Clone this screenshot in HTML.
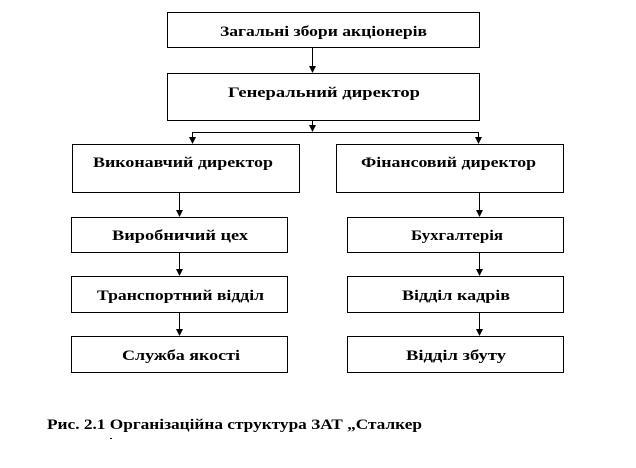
<!DOCTYPE html>
<html><head><meta charset="utf-8"><style>
html,body{margin:0;padding:0;background:#fff;}
svg{display:block;}
</style></head><body>
<svg width="636" height="468" viewBox="0 0 636 468" xmlns="http://www.w3.org/2000/svg">
<g fill="none" stroke="#000" stroke-width="1">
<rect x="167.5" y="12.5" width="312" height="35"/>
<rect x="167.5" y="73.5" width="312" height="47"/>
<rect x="72.5" y="144.5" width="227" height="48"/>
<rect x="336.5" y="144.5" width="227" height="48"/>
<rect x="71.5" y="217.5" width="216" height="35"/>
<rect x="71.5" y="276.5" width="216" height="36"/>
<rect x="71.5" y="336.5" width="216" height="36"/>
<rect x="347.5" y="217.5" width="216" height="35"/>
<rect x="347.5" y="276.5" width="216" height="36"/>
<rect x="347.5" y="336.5" width="216" height="36"/>
<line x1="312.5" y1="48" x2="312.5" y2="67"/>
<line x1="312.5" y1="121" x2="312.5" y2="126"/>
<line x1="192.5" y1="132.5" x2="478.5" y2="132.5"/>
<line x1="192.5" y1="132" x2="192.5" y2="138"/>
<line x1="478.5" y1="132" x2="478.5" y2="138"/>
<line x1="179.5" y1="193" x2="179.5" y2="211"/>
<line x1="179.5" y1="253" x2="179.5" y2="270"/>
<line x1="179.5" y1="313" x2="179.5" y2="330"/>
<line x1="479.5" y1="193" x2="479.5" y2="211"/>
<line x1="479.5" y1="253" x2="479.5" y2="270"/>
<line x1="479.5" y1="313" x2="479.5" y2="330"/>
</g>
<g fill="#000">
<polygon points="309,66 316,66 312.5,73"/>
<polygon points="309,125 316,125 312.5,132"/>
<polygon points="189,137 196,137 192.5,144"/>
<polygon points="475,137 482,137 478.5,144"/>
<polygon points="176,210 183,210 179.5,217"/>
<polygon points="176,269 183,269 179.5,276"/>
<polygon points="176,329 183,329 179.5,336"/>
<polygon points="476,210 483,210 479.5,217"/>
<polygon points="476,269 483,269 479.5,276"/>
<polygon points="476,329 483,329 479.5,336"/>
</g>
<g font-family="'Liberation Serif','Times New Roman',serif" font-weight="bold" font-size="15" fill="#000">
<text x="220" y="36" textLength="207" lengthAdjust="spacingAndGlyphs">Загальні збори акціонерів</text>
<text x="228" y="97" textLength="192" lengthAdjust="spacingAndGlyphs">Генеральний директор</text>
<text x="93" y="167" textLength="180" lengthAdjust="spacingAndGlyphs">Виконавчий директор</text>
<text x="361" y="167" textLength="175" lengthAdjust="spacingAndGlyphs">Фінансовий директор</text>
<text x="112" y="240" textLength="136" lengthAdjust="spacingAndGlyphs">Виробничий цех</text>
<text x="97" y="300" textLength="167" lengthAdjust="spacingAndGlyphs">Транспортний відділ</text>
<text x="122" y="360" textLength="118" lengthAdjust="spacingAndGlyphs">Служба якості</text>
<text x="411" y="240" textLength="92" lengthAdjust="spacingAndGlyphs">Бухгалтерія</text>
<text x="402" y="300" textLength="108" lengthAdjust="spacingAndGlyphs">Відділ  кадрів</text>
<text x="406" y="360" textLength="100" lengthAdjust="spacingAndGlyphs">Відділ  збуту</text>
<text x="47" y="429" textLength="375" lengthAdjust="spacingAndGlyphs">Рис. 2.1 Організаційна структура ЗАТ „Сталкер</text>
</g>
<rect x="110" y="438" width="2" height="1" fill="#000"/>
</svg>
</body></html>
